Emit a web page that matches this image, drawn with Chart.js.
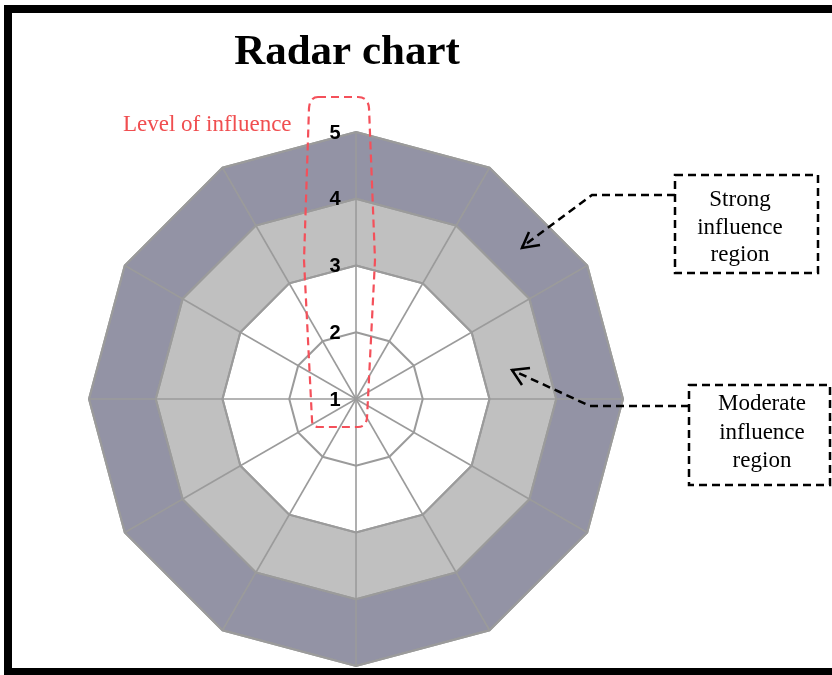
<!DOCTYPE html>
<html>
<head>
<meta charset="utf-8">
<script src="https://cdn.jsdelivr.net/npm/chart.js@4/dist/chart.umd.min.js"></script>
<style>
  html, body { margin: 0; padding: 0; background: #fff; overflow: hidden; }
  #wrap { position: relative; width: 832px; height: 675px; overflow: hidden; }
  #frame {
    position: absolute; left: 4px; top: 5px; width: 900px; height: 671px;
    box-sizing: border-box; border: 8px solid #000; pointer-events: none;
  }
  canvas { position: absolute; left: 0; top: 0; }
</style>
</head>
<body>
<div id="wrap">
  <canvas id="radar" width="832" height="675"></canvas>
  <div id="frame"></div>
</div>
<script>
// Twelve spokes, no axis captions
const categories = ['', '', '', '', '', '', '', '', '', '', '', ''];
// Influence bands (outer edge of each ring on the 1–5 scale)
const neutralBand  = [3, 3, 3, 3, 3, 3, 3, 3, 3, 3, 3, 3];
const moderateBand = [4, 4, 4, 4, 4, 4, 4, 4, 4, 4, 4, 4];
const strongBand   = [5, 5, 5, 5, 5, 5, 5, 5, 5, 5, 5, 5];
// Scale levels
const tickLabels = ['1', '2', '3', '4', '5'];

const GRID = '#9b9b9b';

const annotations = {
  id: 'annotations',
  afterDraw(chart) {
    const ctx = chart.ctx;
    const r = chart.scales.r;
    ctx.save();

    // Title
    ctx.fillStyle = '#000';
    ctx.font = 'bold 43px "Liberation Serif", serif';
    ctx.textAlign = 'center';
    ctx.textBaseline = 'alphabetic';
    ctx.fillText('Radar chart', 347, 64);

    // Level numbers along the vertical spoke
    ctx.font = 'bold 20px "Liberation Sans", Arial, sans-serif';
    ctx.textBaseline = 'middle';
    tickLabels.forEach((t) => {
      const d = r.getDistanceFromCenterForValue(Number(t));
      ctx.fillText(t, r.xCenter - 21, r.yCenter - d + 1);
    });

    // Dashed outline around the level numbers
    ctx.strokeStyle = '#f4505a';
    ctx.lineWidth = 2.2;
    ctx.setLineDash([8, 5]);
    ctx.beginPath();
    ctx.moveTo(318, 97);
    ctx.lineTo(358, 97);
    ctx.quadraticCurveTo(368, 97, 369, 108);
    ctx.lineTo(375, 260);
    ctx.lineTo(367, 418);
    ctx.quadraticCurveTo(366, 427, 358, 427);
    ctx.lineTo(318, 427);
    ctx.quadraticCurveTo(312, 427, 312, 420);
    ctx.lineTo(304, 260);
    ctx.lineTo(309, 108);
    ctx.quadraticCurveTo(310, 97, 318, 97);
    ctx.stroke();

    ctx.setLineDash([]);
    ctx.fillStyle = '#f04e50';
    ctx.font = '23px "Liberation Serif", serif';
    ctx.textAlign = 'left';
    ctx.textBaseline = 'alphabetic';
    ctx.fillText('Level of influence', 123, 131);

    // Callout boxes
    ctx.strokeStyle = '#000';
    ctx.lineWidth = 2.5;
    ctx.setLineDash([8, 5]);
    ctx.strokeRect(675, 175, 143, 98);
    ctx.strokeRect(689, 385, 141, 100);

    // Leader lines
    ctx.beginPath();
    ctx.moveTo(675, 195);
    ctx.lineTo(592, 195);
    ctx.lineTo(522, 247);
    ctx.stroke();
    ctx.beginPath();
    ctx.moveTo(689, 406);
    ctx.lineTo(590, 406);
    ctx.lineTo(512, 370);
    ctx.stroke();

    // Arrow heads
    ctx.setLineDash([]);
    ctx.lineWidth = 2.5;
    ctx.beginPath();
    ctx.moveTo(540, 245); ctx.lineTo(522, 248); ctx.lineTo(529, 232);
    ctx.stroke();
    ctx.beginPath();
    ctx.moveTo(530, 368); ctx.lineTo(512, 370); ctx.lineTo(522, 385);
    ctx.stroke();

    // Callout text
    ctx.fillStyle = '#000';
    ctx.font = '23px "Liberation Serif", serif';
    ctx.textAlign = 'center';
    ctx.fillText('Strong', 740, 206);
    ctx.fillText('influence', 740, 234);
    ctx.fillText('region', 740, 261);
    ctx.fillText('Moderate', 762, 410);
    ctx.fillText('influence', 762, 439);
    ctx.fillText('region', 762, 467);

    ctx.restore();
  }
};

new Chart(document.getElementById('radar'), {
  type: 'radar',
  data: {
    labels: categories,
    datasets: [
      { data: neutralBand,  backgroundColor: '#ffffff', borderColor: GRID, borderWidth: 2, fill: true, pointRadius: 0 },
      { data: moderateBand, backgroundColor: '#c0c0c0', borderColor: GRID, borderWidth: 2, fill: true, pointRadius: 0 },
      { data: strongBand,   backgroundColor: '#9393a5', borderColor: GRID, borderWidth: 2, fill: true, pointRadius: 0 }
    ]
  },
  options: {
    responsive: false,
    animation: false,
    devicePixelRatio: 1,
    layout: { padding: { left: 89, right: 209, top: 132, bottom: 9 } },
    plugins: { legend: { display: false }, tooltip: { enabled: false }, title: { display: false } },
    elements: { line: { tension: 0 } },
    scales: {
      r: {
        min: 1,
        max: 5,
        ticks: { stepSize: 1, display: false },
        pointLabels: { display: false },
        grid: { color: GRID, lineWidth: 2, z: 1 },
        angleLines: { color: GRID, lineWidth: 1.6 }
      }
    }
  },
  plugins: [annotations]
});
</script>
</body>
</html>
